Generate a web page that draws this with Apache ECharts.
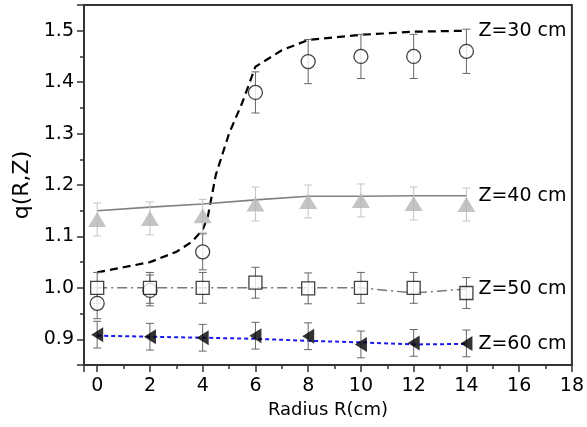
<!DOCTYPE html>
<html>
<head>
<meta charset="utf-8">
<script src="https://cdn.jsdelivr.net/npm/echarts@6/dist/echarts.min.js"></script>
<style>
  html, body { margin: 0; padding: 0; background: #fff; }
  #chart { width: 587px; height: 427px; }
</style>
</head>
<body>
<div id="chart"></div>
<script>
// measured points (R in cm)
const radius = [0, 2, 4, 6, 8, 10, 12, 14];
const q30 = [0.97, 0.995, 1.07, 1.38, 1.44, 1.45, 1.45, 1.46];
const q40 = [1.133, 1.135, 1.14, 1.163, 1.168, 1.17, 1.164, 1.162];
const q50 = [1.0, 1.0, 1.0, 1.01, 0.999, 1.0, 1.0, 0.99];
const q60 = [0.909, 0.905, 0.903, 0.907, 0.906, 0.89, 0.893, 0.892];

const err30 = [0.03, 0.03, 0.035, 0.04, 0.043, 0.043, 0.043, 0.043];
const err40 = [0.032, 0.032, 0.032, 0.033, 0.032, 0.032, 0.032, 0.032];
const err50 = [0.03, 0.03, 0.03, 0.03, 0.03, 0.03, 0.03, 0.03];
const err60 = [0.026, 0.026, 0.026, 0.026, 0.026, 0.026, 0.026, 0.026];

// model curves
const curve30X = [0, 1, 2, 3, 3.6, 4, 4.2, 4.5, 5, 5.5, 6, 7, 8, 10, 12, 14];
const curve30Y = [1.03, 1.04, 1.05, 1.07, 1.09, 1.113, 1.14, 1.22, 1.3, 1.36, 1.43, 1.462, 1.482, 1.492, 1.498, 1.5];
const line40 = [1.15, 1.157, 1.163, 1.171, 1.178, 1.178, 1.179, 1.179];
const line50 = [1.0, 1.0, 1.0, 1.0, 1.0, 1.0, 0.99, 0.998];
const line60 = [0.907, 0.905, 0.903, 0.901, 0.897, 0.894, 0.89, 0.891];

const labels = ['Z=30 cm', 'Z=40 cm', 'Z=50 cm', 'Z=60 cm'];

function pairs(xs, ys) {
  return xs.map((x, i) => [x, ys[i]]);
}

function errData(ys, errs) {
  return radius.map((x, i) => [x, ys[i] - errs[i], ys[i] + errs[i]]);
}

function errorBars(color) {
  return function (params, api) {
    const top = api.coord([api.value(0), api.value(2)]);
    const bot = api.coord([api.value(0), api.value(1)]);
    const w = 4;
    const style = { stroke: color, lineWidth: 1 };
    return {
      type: 'group',
      children: [
        { type: 'line', shape: { x1: top[0], y1: top[1], x2: bot[0], y2: bot[1] }, style: style },
        { type: 'line', shape: { x1: top[0] - w, y1: top[1], x2: top[0] + w, y2: top[1] }, style: style },
        { type: 'line', shape: { x1: bot[0] - w, y1: bot[1], x2: bot[0] + w, y2: bot[1] }, style: style }
      ]
    };
  };
}

function endLabel(text) {
  return {
    show: true,
    formatter: text,
    distance: 12,
    color: '#000',
    fontSize: 19,
    fontFamily: 'DejaVu Sans'
  };
}

const chart = echarts.init(document.getElementById('chart'));

const tickText = { color: '#000', fontSize: 19, fontFamily: 'DejaVu Sans' };

const option = {
  animation: false,
  grid: {
    left: 84, right: 13, top: 5, bottom: 62,
    show: true, borderColor: '#333', borderWidth: 2
  },
  xAxis: {
    type: 'value',
    min: -0.5,
    max: 18,
    minInterval: 2,
    maxInterval: 2,
    name: 'Radius R(cm)',
    nameLocation: 'middle',
    nameGap: 33,
    nameTextStyle: { color: '#000', fontSize: 18, fontFamily: 'DejaVu Sans' },
    axisLine: { onZero: false, lineStyle: { color: '#333', width: 2 } },
    axisTick: { length: 7, lineStyle: { color: '#333', width: 1.5 } },
    minorTick: { show: true, splitNumber: 2, length: 4, lineStyle: { color: '#333', width: 1.5 } },
    axisLabel: Object.assign({
      margin: 12,
      formatter: v => (v >= 0 ? String(v) : '')
    }, tickText),
    splitLine: { show: false }
  },
  yAxis: [
    {
      type: 'value',
      min: 0.85,
      max: 1.55,
      splitNumber: 7,
      name: 'q(R,Z)',
      nameLocation: 'middle',
      nameGap: 41,
      nameTextStyle: { color: '#000', fontSize: 22, fontFamily: 'DejaVu Sans' },
      axisLine: { onZero: false, lineStyle: { color: '#333', width: 2 } },
      axisTick: { length: 7, lineStyle: { color: '#333', width: 1.5 } },
      axisLabel: Object.assign({
        margin: 10,
        formatter: v => (Math.round(v * 100) % 10 === 0 ? v.toFixed(1) : '')
      }, tickText),
      splitLine: { show: false }
    },
    {
      // minor ticks every 0.05
      type: 'value',
      position: 'left',
      offset: 0,
      min: 0.85,
      max: 1.55,
      interval: 0.05,
      axisLine: { show: false, onZero: false },
      axisTick: { length: 4, lineStyle: { color: '#333', width: 1.5 } },
      axisLabel: { show: false },
      splitLine: { show: false }
    }
  ],
  series: [
    {
      type: 'line', data: pairs(curve30X, curve30Y), showSymbol: false, z: 2,
      lineStyle: { color: '#000', width: 2.2, type: [8, 5] },
      endLabel: endLabel(labels[0])
    },
    {
      type: 'line', data: pairs(radius, line40), showSymbol: false, z: 2,
      lineStyle: { color: '#808080', width: 1.6 },
      endLabel: endLabel(labels[1])
    },
    {
      type: 'line', data: pairs(radius, line50), showSymbol: false, z: 2,
      lineStyle: { color: '#777', width: 1.5, type: [10, 4, 2, 4] },
      endLabel: endLabel(labels[2])
    },
    {
      type: 'line', data: pairs(radius, line60), showSymbol: false, z: 2,
      lineStyle: { color: '#1a1aee', width: 2, type: [4, 3] },
      endLabel: endLabel(labels[3])
    },
    { type: 'custom', renderItem: errorBars('#c4c4c4'), data: errData(q40, err40), z: 3 },
    { type: 'custom', renderItem: errorBars('#666'), data: errData(q30, err30), z: 3 },
    { type: 'custom', renderItem: errorBars('#666'), data: errData(q50, err50), z: 3 },
    { type: 'custom', renderItem: errorBars('#666'), data: errData(q60, err60), z: 3 },
    {
      type: 'scatter', data: pairs(radius, q40), symbol: 'triangle', symbolSize: [18, 15], z: 4,
      itemStyle: { color: '#b5b5b5' }
    },
    {
      type: 'scatter', data: pairs(radius, q30), symbol: 'circle', symbolSize: 14, z: 4,
      itemStyle: { color: '#fff', borderColor: '#111', borderWidth: 1.3 }
    },
    {
      type: 'scatter', data: pairs(radius, q50), symbol: 'rect', symbolSize: 13, z: 5,
      itemStyle: { color: '#fff', borderColor: '#111', borderWidth: 1.3 }
    },
    {
      type: 'scatter', data: pairs(radius, q60), symbol: 'triangle', symbolSize: [15, 12], symbolRotate: 90, z: 4,
      itemStyle: { color: '#000' }
    }
  ]
};

chart.setOption(option);
</script>
</body>
</html>
